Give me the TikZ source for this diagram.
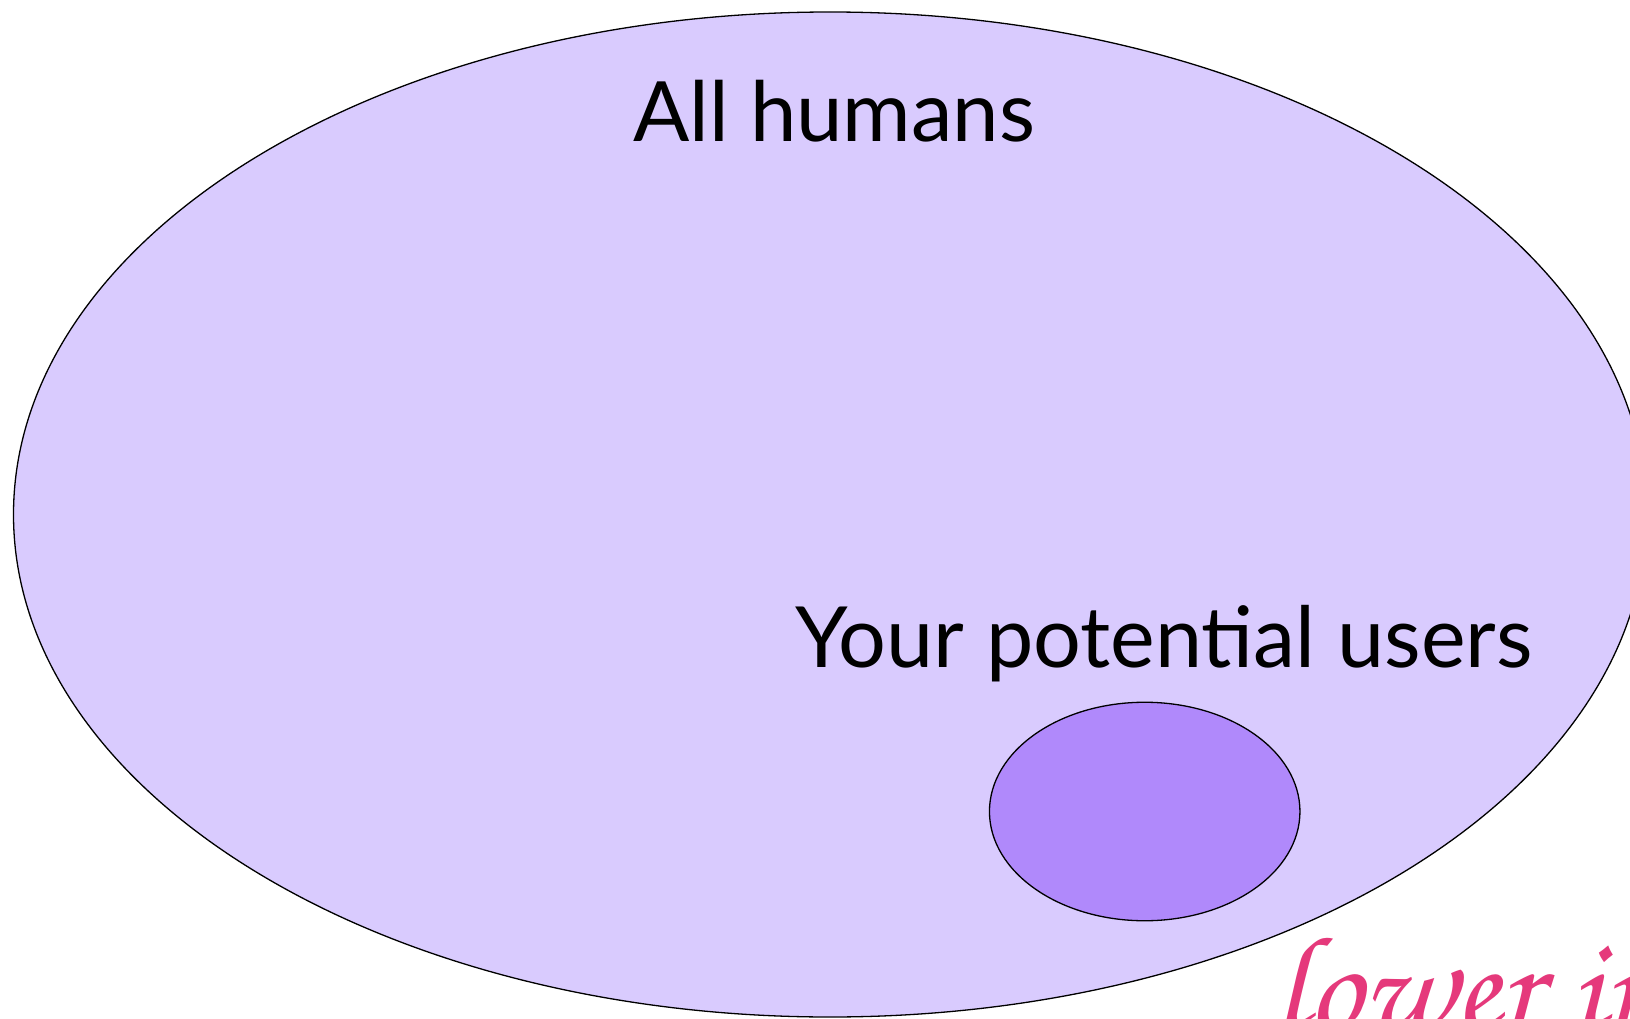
\documentclass[tikz,border=0pt]{standalone}
\usepackage{fontspec}
\setmainfont{Lato}
\newfontfamily\chorus{texgyrechorus-mediumitalic.otf}
\usetikzlibrary{shapes.geometric}
\definecolor{bigfill}{RGB}{217,203,254}
\definecolor{smallfill}{RGB}{176,137,251}
\definecolor{pinktext}{RGB}{229,57,123}
\tikzset{
  setshape/.style={ellipse, draw=black, line width=1.3pt, inner sep=0pt},
  label/.style={anchor=base west, inner sep=0pt, text=black},
}
\begin{document}
\begin{tikzpicture}[x=1pt,y=-1pt]
\useasboundingbox (0,0) rectangle (1630,1019);
\clip (0,0) rectangle (1630,1019);
\fill[white] (0,0) rectangle (1630,1019);
\node[setshape, fill=bigfill, minimum width=1633pt, minimum height=1005pt] (all) at (830,514.5) {};
\node[setshape, fill=smallfill, minimum width=310.5pt, minimum height=218.5pt] (users) at (1144.7,811.5) {};
\node[label] (allt) at (633,142) {\resizebox{402pt}{!}{All humans}};
\node[label] (userst) at (795,667) {\resizebox{737pt}{!}{Your potential users}};
\node[anchor=base west, inner sep=0pt, text=pinktext] (lower) at (1274,1030) {\chorus\fontsize{136}{136}\selectfont lower in};
\end{tikzpicture}
\end{document}
